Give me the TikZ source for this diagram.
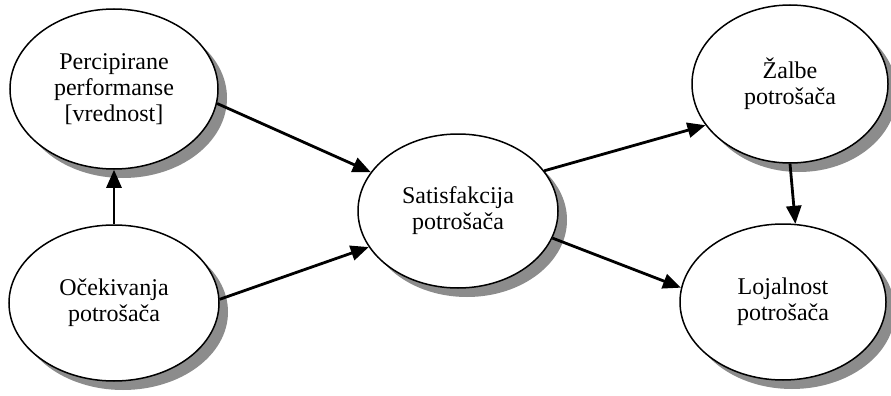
\documentclass[tikz,border=0pt]{standalone}
\usepackage{fontspec}
\setmainfont{Liberation Serif}
\usetikzlibrary{shapes.geometric,arrows.meta}
\begin{document}
\begin{tikzpicture}[x=1pt,y=-1pt,
  bubble/.style={ellipse, draw=black, line width=1.5pt, fill=white, inner sep=0pt,
    align=center, font=\fontsize{24}{26}\selectfont},
  shade/.style={fill=black!45},
  link/.style={line width=2.8pt, -{Triangle[length=18pt,width=15pt]}}]
\useasboundingbox[fill=white] (0,0) rectangle (891,396);
% shadows
\fill[shade] (123,98) ellipse [x radius=104, y radius=80];
\fill[shade] (123,312) ellipse [x radius=105, y radius=78];
\fill[shade] (467,220) ellipse [x radius=100, y radius=77];
\fill[shade] (799,93) ellipse [x radius=98, y radius=79];
\fill[shade] (792,311) ellipse [x radius=103, y radius=78];
% nodes
\node[bubble, minimum width=208pt, minimum height=160pt] (p) at (114,89) {Percipirane\\performanse\\{[vrednost]}};
\node[bubble, minimum width=210pt, minimum height=156pt] (o) at (114,303) {Očekivanja\\potrošača};
\node[bubble, minimum width=200pt, minimum height=154pt] (s) at (458,211) {Satisfakcija\\potrošača};
\node[bubble, minimum width=196pt, minimum height=158pt] (z) at (790,84) {Žalbe\\potrošača};
\node[bubble, minimum width=206pt, minimum height=156pt] (l) at (783,302) {Lojalnost\\potrošača};
\draw[link] (p.-8) -- (s.156);
\draw[link] (o.2) -- (s.202);
\draw[link] (o.north) -- (p.south);
\draw[link] (s.25) -- (z.206);
\draw[link] (s.-16) -- (l.172);
\draw[link] (z.-90) -- (l.81);
\end{tikzpicture}
\end{document}
